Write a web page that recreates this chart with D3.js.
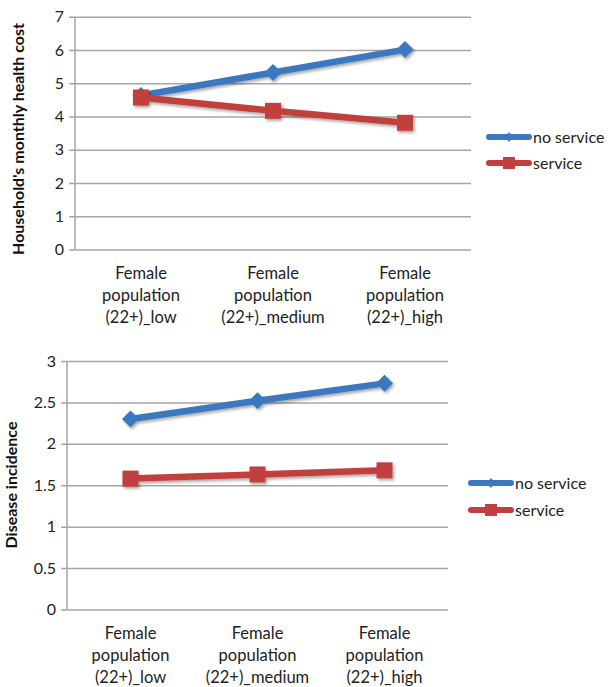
<!DOCTYPE html>
<html><head><meta charset="utf-8">
<script src="https://cdn.jsdelivr.net/npm/d3@7"></script>
<style>body{margin:0;background:#fff;} svg{display:block;font-family:Lato,"Open Sans",sans-serif;}</style>
</head><body>
<svg id="c" width="608" height="687"></svg>
<script>
const categories = ["Female population (22+)_low","Female population (22+)_medium","Female population (22+)_high"];
const categoryLines = [["Female","population","(22+)_low"],["Female","population","(22+)_medium"],["Female","population","(22+)_high"]];
const seriesNames = ["no service","service"];
const costNoService = [4.63, 5.32, 6.01];
const costService = [4.57, 4.17, 3.81];
const diseaseNoService = [2.30, 2.52, 2.73];
const diseaseService = [1.58, 1.63, 1.68];
const costTicks = [0,1,2,3,4,5,6,7];
const diseaseTicks = [0,0.5,1,1.5,2,2.5,3];

const colors = {"no service":"#3b78bf","service":"#c1403e"};
const svg = d3.select("#c");
const defs = svg.append("defs");
const f = defs.append("filter").attr("id","sh").attr("x","-50%").attr("y","-50%").attr("width","200%").attr("height","200%");
f.append("feDropShadow").attr("dx",1.5).attr("dy",2).attr("stdDeviation",1.5).attr("flood-color","#000").attr("flood-opacity",0.35);

function chart(cfg){
  const g = svg.append("g");
  const x = d3.scaleBand().domain(categories).range([cfg.x0,cfg.x1]);
  const y = d3.scaleLinear().domain([0,cfg.max]).range([cfg.y0,cfg.y1]);
  const ya = d3.axisLeft(y).tickValues(cfg.ticks).tickSize(-(cfg.x1-cfg.x0)).tickPadding(11).tickFormat(d=>String(d));
  const ag = g.append("g").attr("transform",`translate(${cfg.x0},0)`).call(ya);
  ag.select(".domain").remove();
  ag.selectAll(".tick line").attr("stroke","#a6a6a6").attr("stroke-width",1.5).attr("x1",-6);
  ag.selectAll(".tick text").attr("font-size",16).attr("fill","#222").attr("font-family","Lato,sans-serif");
  g.append("line").attr("x1",cfg.x0).attr("x2",cfg.x0).attr("y1",cfg.y1).attr("y2",cfg.y0).attr("stroke","#a6a6a6").attr("stroke-width",1.5);
  categories.forEach((c,i)=>{
    const t = g.append("text").attr("text-anchor","middle").attr("font-size",16.5).attr("fill","#222")
      .attr("x",x(c)+x.bandwidth()/2).attr("y",cfg.y0+29);
    categoryLines[i].forEach((l,j)=>t.append("tspan").attr("x",x(c)+x.bandwidth()/2).attr("dy",j?22:0).text(l));
  });
  g.append("text").attr("transform",`translate(${cfg.titleX},${cfg.titleY}) rotate(-90)`)
    .attr("text-anchor","middle").attr("font-weight","bold").attr("font-size",16).attr("fill","#111").text(cfg.title);
  const line = d3.line().x((d,i)=>x(categories[i])+x.bandwidth()/2).y(d=>y(d));
  const series = [["no service",cfg.a],["service",cfg.b]];
  series.forEach(([n,vals])=>{
    const sg = g.append("g").attr("filter","url(#sh)");
    sg.append("path").attr("d",line(vals)).attr("fill","none").attr("stroke",colors[n]).attr("stroke-width",6.5).attr("stroke-linejoin","round").attr("stroke-linecap","round");
    vals.forEach((v,i)=>{
      const cx = x(categories[i])+x.bandwidth()/2, cy = y(v);
      if(n==="no service") sg.append("path").attr("d",`M${cx},${cy-8.5}L${cx+8.5},${cy}L${cx},${cy+8.5}L${cx-8.5},${cy}Z`).attr("fill",colors[n]);
      else sg.append("rect").attr("x",cx-8).attr("y",cy-8).attr("width",16).attr("height",16).attr("fill",colors[n]);
    });
  });
  series.forEach(([n],i)=>{
    const ly = cfg.legY + i*cfg.legGap;
    const lg = g.append("g");
    lg.append("line").attr("x1",cfg.legX).attr("x2",cfg.legX+40).attr("y1",ly).attr("y2",ly).attr("stroke",colors[n]).attr("stroke-width",6).attr("stroke-linecap","round");
    const cx = cfg.legX+20;
    if(n==="no service") lg.append("path").attr("d",`M${cx},${ly-5}L${cx+4},${ly}L${cx},${ly+5}L${cx-4},${ly}Z`).attr("fill",colors[n]);
    else lg.append("rect").attr("x",cx-6).attr("y",ly-6).attr("width",12).attr("height",12).attr("fill",colors[n]);
    lg.append("text").attr("x",cfg.legX+44).attr("y",ly).attr("dy","0.35em").attr("font-size",16).attr("fill","#222").text(n);
  });
}

chart({x0:75,x1:471,y0:249.5,y1:16.7,max:7,ticks:costTicks,a:costNoService,b:costService,
  title:"Household's monthly health cost",titleX:24,titleY:139,legX:489,legY:137,legGap:26});
chart({x0:67,x1:448,y0:609.5,y1:361,max:3,ticks:diseaseTicks,a:diseaseNoService,b:diseaseService,
  title:"Disease incidence",titleX:17,titleY:485,legX:471,legY:483,legGap:27});
</script>
</body></html>
